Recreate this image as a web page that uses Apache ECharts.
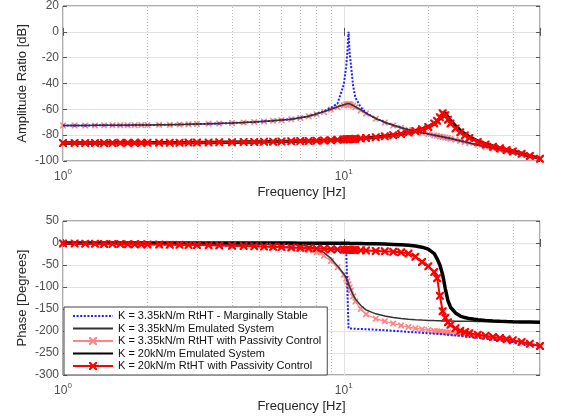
<!DOCTYPE html>
<html><head><meta charset="utf-8">
<script src="https://cdn.jsdelivr.net/npm/echarts@6/dist/echarts.min.js"></script>
<style>html,body{margin:0;padding:0;background:#fff}#c{width:561px;height:417px}</style>
</head><body><div id="c"></div>
<script>
// Frequency samples [Hz]
const freq = [
  1.0, 1.1, 1.2, 1.3, 1.4, 1.5, 1.6, 1.7, 1.8, 1.9,
  2.0, 2.2, 2.4, 2.6, 2.8, 3.0, 3.3, 3.6, 4.0, 4.4,
  4.8, 5.2, 5.6, 6.0, 6.5, 7.0, 7.5, 8.0, 8.5, 9.0,
  9.5, 10.0, 10.2, 10.3, 10.4, 10.5, 10.6, 10.8, 11.0, 11.5,
  12, 13, 14, 15, 16, 17, 18, 19, 20, 21,
  21.5, 22, 22.5, 23, 23.5, 24, 25, 26, 27, 28,
  30, 32, 34, 36, 38, 40, 43, 46, 50
];
const seriesNames = [
  'K = 3.35kN/m RtHT - Marginally Stable',
  'K = 3.35kN/m Emulated System',
  'K = 3.35kN/m RtHT with Passivity Control',
  'K = 20kN/m Emulated System',
  'K = 20kN/m RtHT with Passivity Control'
];
// Amplitude ratio [dB]
const ampBlue = [
  -72.5, -72.5, -72.5, -72.4, -72.4, -72.4, -72.3, -72.3, -72.2, -72.2,
  -72.1, -72.0, -71.9, -71.7, -71.6, -71.4, -71.2, -70.9, -70.6, -70.2,
  -69.8, -69.3, -68.8, -68.3, -67.6, -66.6, -65.3, -63.5, -61.5, -58.8,
  -55.5, -40.8, -27.0, -16.0, 0.0, -17.0, -25.0, -42.0, -51.0, -58.5,
  -62.8, -67.0, -70.0, -72.3, -74.2, -75.8, -77.0, -78.1, -79.0, -80.0,
  -80.4, -80.9, -81.3, -81.8, -82.2, -82.6, -83.6, -84.4, -85.2, -86.0,
  -87.5, -88.9, -90.2, -91.3, -92.4, -93.4, -94.9, -96.3, -98.0
];
const ampEmu335 = [
  -72.5, -72.5, -72.5, -72.4, -72.4, -72.4, -72.3, -72.3, -72.2, -72.2,
  -72.1, -72.0, -71.9, -71.7, -71.6, -71.4, -71.2, -70.9, -70.6, -70.2,
  -69.8, -69.3, -68.8, -68.3, -67.6, -66.6, -65.3, -63.6, -61.8, -60.0,
  -58.0, -56.4, -55.9, -55.7, -55.5, -55.7, -56.1, -57.0, -58.0, -60.5,
  -63.0, -67.0, -70.0, -72.3, -74.2, -75.8, -77.0, -78.1, -79.0, -80.0,
  -80.4, -80.9, -81.3, -81.8, -82.2, -82.6, -83.6, -84.4, -85.2, -86.0,
  -87.5, -88.9, -90.2, -91.3, -92.4, -93.4, -94.9, -96.3, -98.0
];
const ampPas335 = [
  -72.6, -72.5, -72.5, -72.5, -72.4, -72.4, -72.3, -72.3, -72.3, -72.2,
  -72.1, -72.0, -71.9, -71.8, -71.6, -71.4, -71.2, -71.0, -70.6, -70.2,
  -69.8, -69.4, -68.9, -68.4, -67.6, -66.7, -65.4, -63.8, -62.0, -60.2,
  -58.3, -56.8, -56.3, -56.0, -55.9, -56.0, -56.4, -57.2, -58.3, -60.8,
  -63.3, -67.2, -70.2, -72.5, -74.3, -75.9, -77.1, -78.2, -79.1, -80.0,
  -80.5, -81.0, -81.4, -81.8, -82.2, -82.7, -83.6, -84.5, -85.3, -86.0,
  -87.5, -88.9, -90.2, -91.4, -92.5, -93.5, -95.0, -96.4, -98.2
];
const ampEmu20 = [
  -86.0, -86.0, -86.0, -86.0, -86.0, -85.9, -85.9, -85.9, -85.9, -85.9,
  -85.9, -85.8, -85.8, -85.8, -85.7, -85.7, -85.6, -85.5, -85.4, -85.3,
  -85.2, -85.1, -85.0, -84.9, -84.8, -84.6, -84.5, -84.3, -84.1, -83.9,
  -83.6, -83.3, -83.2, -83.1, -83.1, -83.0, -83.0, -82.9, -82.8, -82.5,
  -82.2, -81.6, -80.9, -80.0, -79.1, -78.0, -76.8, -75.4, -73.7, -71.2,
  -69.4, -67.2, -64.3, -62.5, -66.0, -68.7, -72.8, -76.2, -79.0, -81.2,
  -84.5, -86.8, -88.6, -90.0, -91.2, -92.4, -94.2, -96.0, -98.0
];
const ampPas20 = [
  -86.1, -86.0, -86.0, -86.0, -86.0, -86.0, -85.9, -85.9, -85.9, -85.9,
  -85.9, -85.8, -85.8, -85.8, -85.7, -85.7, -85.6, -85.5, -85.4, -85.3,
  -85.2, -85.1, -85.0, -84.9, -84.8, -84.6, -84.5, -84.3, -84.1, -83.9,
  -83.6, -83.3, -83.2, -83.1, -83.1, -83.0, -83.0, -82.9, -82.8, -82.5,
  -82.2, -81.6, -80.9, -80.0, -79.1, -78.0, -76.8, -75.4, -73.6, -70.9,
  -68.9, -66.2, -63.0, -64.5, -68.0, -71.0, -74.8, -77.8, -80.2, -82.2,
  -85.2, -87.2, -88.9, -90.2, -91.4, -92.6, -94.4, -96.1, -98.3
];
// Phase [Degrees]
const phBlue = [
  -1.5, -1.6, -1.8, -1.9, -2.1, -2.2, -2.4, -2.5, -2.7, -2.8,
  -3.0, -3.3, -3.6, -3.9, -4.2, -4.5, -5.0, -5.4, -6.0, -6.6,
  -7.2, -7.8, -8.4, -9.0, -9.7, -10.5, -11.2, -12.0, -12.7, -13.5,
  -14.2, -14.8, -15.0, -15.1, -194.0, -194.2, -194.4, -194.7, -195.0, -195.5,
  -196.0, -197.0, -198.3, -199.5, -200.8, -202.0, -203.0, -204.0, -205.0, -206.0,
  -206.5, -207.0, -207.5, -208.0, -208.5, -209.0, -210.0, -211.0, -212.3, -213.5,
  -215.5, -217.5, -219.5, -221.5, -223.5, -225.3, -228.0, -231.0, -234.0
];
const phEmu335 = [
  0, 0, 0, 0, 0, -0.1, -0.1, -0.1, -0.1, -0.1,
  -0.2, -0.2, -0.2, -0.3, -0.3, -0.4, -0.5, -0.6, -0.7, -0.9,
  -1.1, -1.4, -1.8, -2.3, -3.2, -4.7, -7.5, -14.0, -22.0, -35.0,
  -52.0, -70.0, -79.0, -85.0, -92.0, -100.0, -106.0, -118.0, -127.0, -142.0,
  -152.0, -161.0, -166.0, -169.5, -171.8, -173.3, -174.4, -175.2, -175.9, -176.4,
  -176.6, -176.8, -177.0, -177.1, -177.3, -177.4, -177.6, -177.8, -178.0, -178.1,
  -178.3, -178.5, -178.6, -178.7, -178.8, -178.9, -179.0, -179.1, -179.2
];
const phPas335 = [
  -1.0, -1.2, -1.4, -1.6, -1.8, -2.0, -2.2, -2.4, -2.6, -2.8,
  -3.0, -3.3, -3.6, -3.9, -4.2, -4.5, -5.0, -5.5, -6.2, -6.9,
  -7.7, -8.5, -9.4, -10.4, -11.8, -13.8, -16.5, -21.0, -29.0, -41.0,
  -55.0, -72.0, -81.0, -87.0, -94.0, -101.0, -108.0, -121.0, -133.0, -150.0,
  -162.0, -172.0, -178.0, -183.0, -187.5, -191.0, -194.0, -196.0, -198.0, -199.8,
  -200.5, -201.3, -202.0, -202.8, -203.5, -204.2, -205.5, -206.8, -208.0, -209.0,
  -211.0, -213.0, -215.0, -217.0, -219.0, -221.0, -225.0, -229.0, -233.0
];
const phEmu20 = [
  0, 0, 0, 0, 0, 0, 0, 0, 0, 0,
  0, 0, 0, 0, 0, 0, 0, -0.1, -0.1, -0.1,
  -0.1, -0.1, -0.2, -0.2, -0.2, -0.3, -0.3, -0.4, -0.4, -0.5,
  -0.6, -0.7, -0.7, -0.8, -0.8, -0.8, -0.9, -0.9, -1.0, -1.2,
  -1.5, -1.9, -2.5, -3.2, -4.0, -5.2, -7.0, -9.5, -14.0, -24.0,
  -36.0, -50.0, -72.0, -104.0, -131.0, -146.0, -159.0, -166.0, -169.5, -171.8,
  -174.5, -176.2, -177.2, -177.9, -178.4, -178.8, -179.3, -179.6, -180.0
];
const phPas20 = [
  -1.0, -1.3, -1.6, -1.9, -2.1, -2.3, -2.5, -2.7, -2.9, -3.1,
  -3.2, -3.5, -3.8, -4.1, -4.4, -4.7, -5.1, -5.5, -6.1, -6.7,
  -7.3, -8.0, -8.6, -9.3, -10.1, -11.0, -11.8, -12.6, -13.3, -14.0,
  -14.6, -15.1, -15.3, -15.4, -15.5, -15.6, -15.7, -15.9, -16.1, -16.5,
  -17.0, -18.0, -19.0, -20.0, -21.3, -24.0, -31.0, -43.0, -53.0, -66.0,
  -80.0, -120.0, -155.0, -170.0, -180.0, -186.0, -194.0, -199.5, -202.5, -205.0,
  -208.5, -211.0, -213.5, -216.0, -218.5, -221.0, -225.0, -229.0, -234.0
];
// Axes
const freqMin = 1, freqMax = 50;
const ampMin = -100, ampMax = 20, ampStep = 20;
const phMin = -300, phMax = 50, phStep = 50;
const minorFreqs = [2, 3, 4, 5, 6, 7, 8, 9, 20, 30, 40];

const FONT = "'Liberation Sans', Arial, sans-serif";
const toPairs = (vals) => freq.map((f, i) => [f, vals[i]]);
const xMark = 'path://M0,0L2,0L5,3L8,0L10,0L10,2L7,5L10,8L10,10L8,10L5,7L2,10L0,10L0,8L3,5L0,2Z';

// z gives drawing order: light red under blue/thin black, red 20kN on top
const styles = [
  { color: '#1f1fff', width: 2, type: [2, 1.6], symbol: 'none', z: 4 },
  { color: '#333333', width: 1.5, type: 'solid', symbol: 'none', z: 5 },
  { color: '#ff8585', width: 1.2, type: 'solid', symbol: xMark, size: 6, z: 3 },
  { color: '#000000', width: 3.5, type: 'solid', symbol: 'none', z: 6 },
  { color: '#ff0000', width: 2, type: 'solid', symbol: xMark, size: 8, z: 7 }
];
const ampData = [ampBlue, ampEmu335, ampPas335, ampEmu20, ampPas20];
const phData = [phBlue, phEmu335, phPas335, phEmu20, phPas20];

function makeSeries(dataArr, gi) {
  return dataArr.map((vals, k) => {
    const st = styles[k];
    const s = {
      name: seriesNames[k], type: 'line', xAxisIndex: gi, yAxisIndex: gi,
      data: toPairs(vals), animation: false, z: st.z,
      lineStyle: { color: st.color, width: st.width, type: st.type },
      itemStyle: { color: st.color },
      symbol: st.symbol, symbolSize: st.size || 0,
      showSymbol: st.symbol !== 'none', showAllSymbol: true
    };
    if (k === 0) {
      s.markLine = {
        silent: true, animation: false, symbol: ['none', 'none'],
        label: { show: false }, z: 1,
        lineStyle: { color: '#b8b8b8', type: [1, 2], width: 1 },
        data: minorFreqs.map(v => ({ xAxis: v }))
      };
    }
    return s;
  });
}

const xLabelFmt = (v) => {
  const e = Math.log10(v);
  if (Math.abs(e - Math.round(e)) < 1e-6) return '{b|10}{s|' + Math.round(e) + '}';
  return '';
};
const xLabelRich = {
  b: { fontSize: 12, fontFamily: FONT, color: '#4d4d4d', lineHeight: 15, verticalAlign: 'bottom' },
  s: { fontSize: 8, fontFamily: FONT, color: '#4d4d4d', lineHeight: 15, verticalAlign: 'top' }
};
function bottomX(gi) {
  return {
    type: 'log', logBase: 10, gridIndex: gi, min: freqMin, max: freqMax,
    name: 'Frequency [Hz]', nameLocation: 'middle', nameGap: 25,
    nameTextStyle: { fontSize: 13, fontFamily: FONT, color: '#262626' },
    axisLine: { show: false }, axisTick: { show: true, inside: true, length: 4, lineStyle: { color: '#555' } },
    axisLabel: { formatter: xLabelFmt, rich: xLabelRich, margin: 7 },
    splitLine: { show: true, lineStyle: { color: '#e2e2e2', width: 1 } }
  };
}
function topX(gi) {
  return {
    type: 'log', logBase: 10, gridIndex: gi, min: freqMin, max: freqMax, position: 'top',
    axisLine: { show: false }, axisLabel: { show: false }, splitLine: { show: false },
    axisTick: { show: true, inside: true, length: 4, lineStyle: { color: '#555' } }
  };
}
function leftY(gi, mn, mx, step, name) {
  return {
    type: 'value', gridIndex: gi, min: mn, max: mx, interval: step,
    name: name, nameLocation: 'middle', nameGap: 34, nameMoveOverlap: false,
    nameTextStyle: { fontSize: 13, fontFamily: FONT, color: '#262626' },
    axisLine: { show: false },
    axisTick: { show: true, inside: true, length: 4, lineStyle: { color: '#555' } },
    axisLabel: { fontSize: 12, fontFamily: FONT, color: '#4d4d4d', margin: 4 },
    splitLine: { show: true, lineStyle: { color: '#e2e2e2', width: 1 } }
  };
}
function rightY(gi, mn, mx, step) {
  return {
    type: 'value', gridIndex: gi, min: mn, max: mx, interval: step, position: 'right',
    axisLine: { show: false }, axisLabel: { show: false }, splitLine: { show: false },
    axisTick: { show: true, inside: true, length: 4, lineStyle: { color: '#555' } }
  };
}

const legendData = seriesNames.map((n, k) =>
  styles[k].symbol === 'none' ? { name: n, itemStyle: { opacity: 0 } } : { name: n });

const option = {
  backgroundColor: '#fff',
  animation: false,
  grid: [
    { left: 63, top: 6, width: 477, height: 155, show: true, borderColor: '#5a5a5a', borderWidth: 1, backgroundColor: '#fff' },
    { left: 63, top: 221, width: 477, height: 154, show: true, borderColor: '#5a5a5a', borderWidth: 1, backgroundColor: '#fff' }
  ],
  xAxis: [bottomX(0), bottomX(1), topX(0), topX(1)],
  yAxis: [
    leftY(0, ampMin, ampMax, ampStep, 'Amplitude Ratio [dB]'),
    leftY(1, phMin, phMax, phStep, 'Phase [Degrees]'),
    rightY(0, ampMin, ampMax, ampStep),
    rightY(1, phMin, phMax, phStep)
  ],
  legend: {
    data: legendData, orient: 'vertical', left: 64, top: 307,
    itemWidth: 40, itemHeight: 10, itemGap: 0.5,
    padding: [3, 6, 3, 8], backgroundColor: '#fff',
    borderColor: '#444', borderWidth: 1, z: 20,
    textStyle: { fontSize: 11, lineHeight: 12, fontFamily: FONT, color: '#111' }
  },
  series: [...makeSeries(ampData, 0), ...makeSeries(phData, 1)]
};
const chart = echarts.init(document.getElementById('c'), null, { renderer: 'canvas' });
chart.setOption(option);
</script>
</body></html>
